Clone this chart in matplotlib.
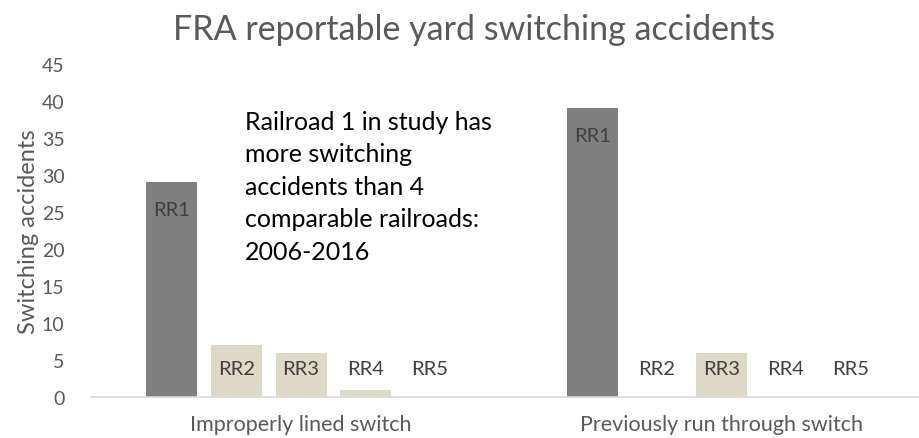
import numpy as np
import matplotlib.pyplot as plt

# data
categories = ['Improperly lined switch', 'Previously run through switch']
railroads = ['RR1', 'RR2', 'RR3', 'RR4', 'RR5']
accidents = {
    'RR1': [29, 39],
    'RR2': [7, 0],
    'RR3': [6, 6],
    'RR4': [1, 0],
    'RR5': [0, 0],
}
bar_colors = ['#7f7f7f', '#ddd9c4', '#ddd9c4', '#ddd9c4', '#ddd9c4']
yticks = list(range(0, 50, 5))
note = ('Railroad 1 in study has\nmore switching\naccidents than 4\n'
        'comparable railroads:\n2006-2016')

plt.rcParams['font.family'] = ['Lato', 'DejaVu Sans']

fig = plt.figure(figsize=(9.19, 4.39), dpi=100)
ax = fig.add_axes([0.099, 0.0934, 0.901, 0.7586])

x = np.arange(len(categories))
step = 0.1536
width = 0.1214
for i, rr in enumerate(railroads):
    off = (i - 2) * step
    vals = accidents[rr]
    ax.bar(x + off, vals, width, color=bar_colors[i], zorder=2)
    for xi, v in zip(x, vals):
        ly = max(v - 3.65, 3.8)
        kw = {}
        if rr == 'RR3':
            kw['bbox'] = dict(boxstyle='square,pad=0.3', fc='#ddd9c4', ec='none')
        ax.text(xi + off, ly, rr, ha='center', va='center', fontsize=14.5,
                color='#404040', zorder=3, **kw)

ax.set_xlim(-0.5, 1.471)
ax.set_ylim(0, 45)
ax.set_yticks(yticks)
ax.set_xticks(x)
ax.set_xticklabels(categories)
ax.tick_params(axis='both', length=0, labelsize=14, colors='#595959')
ax.tick_params(axis='x', labelsize=15.5, pad=12)
ax.tick_params(axis='y', pad=19)
for s in ['top', 'right', 'left']:
    ax.spines[s].set_visible(False)
ax.spines['bottom'].set_color('#d9d9d9')
ax.spines['bottom'].set_linewidth(1.2)

ax.set_ylabel('Switching accidents', fontsize=17, color='#595959', labelpad=2)
fig.text(0.516, 0.932, 'FRA reportable yard switching accidents', ha='center',
         va='center', fontsize=24.5, color='#595959')
ax.text(-0.133, 38.8, note, ha='left', va='top', fontsize=18, color='black',
        linespacing=1.5)

fig.savefig('out.png', dpi=100)
